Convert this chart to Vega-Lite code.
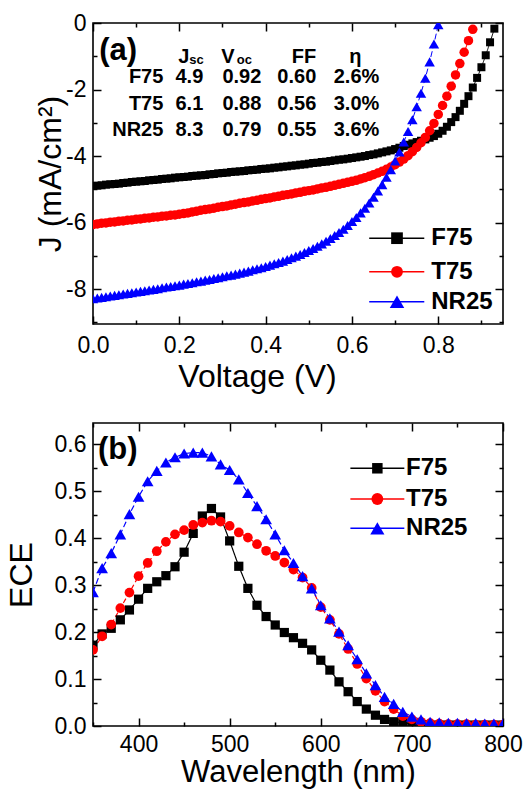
{
"$schema": "https://vega.github.io/schema/vega-lite/v6.json",
"background": "white",
"padding": {"left": 4, "top": 11, "right": 0, "bottom": 0},
"bounds": "flush",
"spacing": 99,
"config": {
 "view": {"stroke": "#000", "strokeWidth": 1.6},
 "axis": {"domain": false, "grid": false, "labelFont": "Liberation Sans", "labelFontSize": 23, "labelColor": "#000", "labelFlush": false, "labelOverlap": false, "titleFont": "Liberation Sans", "titleFontSize": 32, "titleFontWeight": "normal", "titleColor": "#000", "tickColor": "#000", "tickWidth": 1.5, "tickSize": -8, "labelPadding": 18},
 "text": {"font": "Liberation Sans", "color": "#000", "fontWeight": "bold", "fontSize": 20, "baseline": "alphabetic", "align": "right"},
 "rule": {"strokeWidth": 1.5},
 "point": {"filled": true, "opacity": 1}
},
"datasets": {
 "tbl": [
  {"sample": "F75", "Jsc": "4.9", "Voc": "0.92", "FF": "0.60", "eta": "2.6%"},
  {"sample": "T75", "Jsc": "6.1", "Voc": "0.88", "FF": "0.56", "eta": "3.0%"},
  {"sample": "NR25", "Jsc": "8.3", "Voc": "0.79", "FF": "0.55", "eta": "3.6%"}
 ],
 "iv": [
  {"s":"F75","V":0.00,"J":-4.90},{"s":"F75","V":0.01,"J":-4.89},{"s":"F75","V":0.02,"J":-4.88},{"s":"F75","V":0.03,"J":-4.86},{"s":"F75","V":0.04,"J":-4.85},{"s":"F75","V":0.05,"J":-4.84},{"s":"F75","V":0.06,"J":-4.83},{"s":"F75","V":0.07,"J":-4.81},{"s":"F75","V":0.08,"J":-4.80},{"s":"F75","V":0.09,"J":-4.78},
  {"s":"F75","V":0.10,"J":-4.77},{"s":"F75","V":0.11,"J":-4.76},{"s":"F75","V":0.12,"J":-4.75},{"s":"F75","V":0.13,"J":-4.73},{"s":"F75","V":0.14,"J":-4.72},{"s":"F75","V":0.15,"J":-4.71},{"s":"F75","V":0.16,"J":-4.69},{"s":"F75","V":0.17,"J":-4.68},{"s":"F75","V":0.18,"J":-4.67},{"s":"F75","V":0.19,"J":-4.65},
  {"s":"F75","V":0.20,"J":-4.64},{"s":"F75","V":0.21,"J":-4.63},{"s":"F75","V":0.22,"J":-4.62},{"s":"F75","V":0.23,"J":-4.60},{"s":"F75","V":0.24,"J":-4.59},{"s":"F75","V":0.25,"J":-4.58},{"s":"F75","V":0.26,"J":-4.57},{"s":"F75","V":0.27,"J":-4.55},{"s":"F75","V":0.28,"J":-4.54},{"s":"F75","V":0.29,"J":-4.52},
  {"s":"F75","V":0.30,"J":-4.51},{"s":"F75","V":0.31,"J":-4.50},{"s":"F75","V":0.32,"J":-4.48},{"s":"F75","V":0.33,"J":-4.47},{"s":"F75","V":0.34,"J":-4.46},{"s":"F75","V":0.35,"J":-4.45},{"s":"F75","V":0.36,"J":-4.43},{"s":"F75","V":0.37,"J":-4.42},{"s":"F75","V":0.38,"J":-4.41},{"s":"F75","V":0.39,"J":-4.39},
  {"s":"F75","V":0.40,"J":-4.38},{"s":"F75","V":0.41,"J":-4.37},{"s":"F75","V":0.42,"J":-4.35},{"s":"F75","V":0.43,"J":-4.34},{"s":"F75","V":0.44,"J":-4.32},{"s":"F75","V":0.45,"J":-4.31},{"s":"F75","V":0.46,"J":-4.29},{"s":"F75","V":0.47,"J":-4.28},{"s":"F75","V":0.48,"J":-4.26},{"s":"F75","V":0.49,"J":-4.25},
  {"s":"F75","V":0.50,"J":-4.23},{"s":"F75","V":0.51,"J":-4.21},{"s":"F75","V":0.52,"J":-4.20},{"s":"F75","V":0.53,"J":-4.18},{"s":"F75","V":0.54,"J":-4.17},{"s":"F75","V":0.55,"J":-4.15},{"s":"F75","V":0.56,"J":-4.13},{"s":"F75","V":0.57,"J":-4.11},{"s":"F75","V":0.58,"J":-4.10},{"s":"F75","V":0.59,"J":-4.08},
  {"s":"F75","V":0.60,"J":-4.06},{"s":"F75","V":0.61,"J":-4.04},{"s":"F75","V":0.62,"J":-4.02},{"s":"F75","V":0.63,"J":-4.00},{"s":"F75","V":0.64,"J":-3.97},{"s":"F75","V":0.65,"J":-3.95},{"s":"F75","V":0.66,"J":-3.92},{"s":"F75","V":0.67,"J":-3.89},{"s":"F75","V":0.68,"J":-3.86},{"s":"F75","V":0.69,"J":-3.83},
  {"s":"F75","V":0.70,"J":-3.79},{"s":"F75","V":0.71,"J":-3.75},{"s":"F75","V":0.72,"J":-3.70},{"s":"F75","V":0.73,"J":-3.66},{"s":"F75","V":0.74,"J":-3.62},{"s":"F75","V":0.75,"J":-3.58},{"s":"F75","V":0.76,"J":-3.54},{"s":"F75","V":0.77,"J":-3.50},{"s":"F75","V":0.78,"J":-3.45},{"s":"F75","V":0.79,"J":-3.40},
  {"s":"F75","V":0.80,"J":-3.33},{"s":"F75","V":0.81,"J":-3.24},{"s":"F75","V":0.82,"J":-3.12},{"s":"F75","V":0.83,"J":-2.98},{"s":"F75","V":0.84,"J":-2.83},{"s":"F75","V":0.85,"J":-2.64},{"s":"F75","V":0.86,"J":-2.43},{"s":"F75","V":0.87,"J":-2.20},{"s":"F75","V":0.88,"J":-1.94},{"s":"F75","V":0.89,"J":-1.65},
  {"s":"F75","V":0.90,"J":-1.33},{"s":"F75","V":0.91,"J":-0.97},{"s":"F75","V":0.92,"J":-0.58},{"s":"F75","V":0.93,"J":-0.17},
  {"s":"T75","V":0.00,"J":-6.06},{"s":"T75","V":0.01,"J":-6.04},{"s":"T75","V":0.02,"J":-6.02},{"s":"T75","V":0.03,"J":-6.01},{"s":"T75","V":0.04,"J":-5.99},{"s":"T75","V":0.05,"J":-5.98},{"s":"T75","V":0.06,"J":-5.96},{"s":"T75","V":0.07,"J":-5.95},{"s":"T75","V":0.08,"J":-5.93},{"s":"T75","V":0.09,"J":-5.92},
  {"s":"T75","V":0.10,"J":-5.90},{"s":"T75","V":0.11,"J":-5.89},{"s":"T75","V":0.12,"J":-5.87},{"s":"T75","V":0.13,"J":-5.86},{"s":"T75","V":0.14,"J":-5.84},{"s":"T75","V":0.15,"J":-5.83},{"s":"T75","V":0.16,"J":-5.81},{"s":"T75","V":0.17,"J":-5.80},{"s":"T75","V":0.18,"J":-5.78},{"s":"T75","V":0.19,"J":-5.77},
  {"s":"T75","V":0.20,"J":-5.75},{"s":"T75","V":0.21,"J":-5.73},{"s":"T75","V":0.22,"J":-5.71},{"s":"T75","V":0.23,"J":-5.68},{"s":"T75","V":0.24,"J":-5.66},{"s":"T75","V":0.25,"J":-5.63},{"s":"T75","V":0.26,"J":-5.61},{"s":"T75","V":0.27,"J":-5.59},{"s":"T75","V":0.28,"J":-5.57},{"s":"T75","V":0.29,"J":-5.54},
  {"s":"T75","V":0.30,"J":-5.52},{"s":"T75","V":0.31,"J":-5.50},{"s":"T75","V":0.32,"J":-5.47},{"s":"T75","V":0.33,"J":-5.45},{"s":"T75","V":0.34,"J":-5.42},{"s":"T75","V":0.35,"J":-5.40},{"s":"T75","V":0.36,"J":-5.38},{"s":"T75","V":0.37,"J":-5.35},{"s":"T75","V":0.38,"J":-5.33},{"s":"T75","V":0.39,"J":-5.30},
  {"s":"T75","V":0.40,"J":-5.28},{"s":"T75","V":0.41,"J":-5.26},{"s":"T75","V":0.42,"J":-5.23},{"s":"T75","V":0.43,"J":-5.21},{"s":"T75","V":0.44,"J":-5.18},{"s":"T75","V":0.45,"J":-5.16},{"s":"T75","V":0.46,"J":-5.14},{"s":"T75","V":0.47,"J":-5.11},{"s":"T75","V":0.48,"J":-5.09},{"s":"T75","V":0.49,"J":-5.06},
  {"s":"T75","V":0.50,"J":-5.04},{"s":"T75","V":0.51,"J":-5.02},{"s":"T75","V":0.52,"J":-4.99},{"s":"T75","V":0.53,"J":-4.96},{"s":"T75","V":0.54,"J":-4.94},{"s":"T75","V":0.55,"J":-4.91},{"s":"T75","V":0.56,"J":-4.88},{"s":"T75","V":0.57,"J":-4.85},{"s":"T75","V":0.58,"J":-4.82},{"s":"T75","V":0.59,"J":-4.79},
  {"s":"T75","V":0.60,"J":-4.76},{"s":"T75","V":0.61,"J":-4.73},{"s":"T75","V":0.62,"J":-4.69},{"s":"T75","V":0.63,"J":-4.65},{"s":"T75","V":0.64,"J":-4.61},{"s":"T75","V":0.65,"J":-4.56},{"s":"T75","V":0.66,"J":-4.51},{"s":"T75","V":0.67,"J":-4.46},{"s":"T75","V":0.68,"J":-4.40},{"s":"T75","V":0.69,"J":-4.33},
  {"s":"T75","V":0.70,"J":-4.26},{"s":"T75","V":0.71,"J":-4.18},{"s":"T75","V":0.72,"J":-4.09},{"s":"T75","V":0.73,"J":-3.99},{"s":"T75","V":0.74,"J":-3.87},{"s":"T75","V":0.75,"J":-3.74},{"s":"T75","V":0.76,"J":-3.60},{"s":"T75","V":0.77,"J":-3.44},{"s":"T75","V":0.78,"J":-3.24},{"s":"T75","V":0.79,"J":-3.02},
  {"s":"T75","V":0.80,"J":-2.75},{"s":"T75","V":0.81,"J":-2.48},{"s":"T75","V":0.82,"J":-2.20},{"s":"T75","V":0.83,"J":-1.90},{"s":"T75","V":0.84,"J":-1.56},{"s":"T75","V":0.85,"J":-1.22},{"s":"T75","V":0.86,"J":-0.88},{"s":"T75","V":0.87,"J":-0.53},{"s":"T75","V":0.88,"J":-0.19},
  {"s":"NR25","V":0.00,"J":-8.29},{"s":"NR25","V":0.01,"J":-8.27},{"s":"NR25","V":0.02,"J":-8.25},{"s":"NR25","V":0.03,"J":-8.23},{"s":"NR25","V":0.04,"J":-8.21},{"s":"NR25","V":0.05,"J":-8.19},{"s":"NR25","V":0.06,"J":-8.17},{"s":"NR25","V":0.07,"J":-8.15},{"s":"NR25","V":0.08,"J":-8.13},{"s":"NR25","V":0.09,"J":-8.11},
  {"s":"NR25","V":0.10,"J":-8.09},{"s":"NR25","V":0.11,"J":-8.07},{"s":"NR25","V":0.12,"J":-8.05},{"s":"NR25","V":0.13,"J":-8.03},{"s":"NR25","V":0.14,"J":-8.01},{"s":"NR25","V":0.15,"J":-7.99},{"s":"NR25","V":0.16,"J":-7.96},{"s":"NR25","V":0.17,"J":-7.94},{"s":"NR25","V":0.18,"J":-7.92},{"s":"NR25","V":0.19,"J":-7.90},
  {"s":"NR25","V":0.20,"J":-7.88},{"s":"NR25","V":0.21,"J":-7.85},{"s":"NR25","V":0.22,"J":-7.83},{"s":"NR25","V":0.23,"J":-7.81},{"s":"NR25","V":0.24,"J":-7.78},{"s":"NR25","V":0.25,"J":-7.76},{"s":"NR25","V":0.26,"J":-7.73},{"s":"NR25","V":0.27,"J":-7.71},{"s":"NR25","V":0.28,"J":-7.68},{"s":"NR25","V":0.29,"J":-7.66},
  {"s":"NR25","V":0.30,"J":-7.63},{"s":"NR25","V":0.31,"J":-7.60},{"s":"NR25","V":0.32,"J":-7.58},{"s":"NR25","V":0.33,"J":-7.55},{"s":"NR25","V":0.34,"J":-7.52},{"s":"NR25","V":0.35,"J":-7.49},{"s":"NR25","V":0.36,"J":-7.46},{"s":"NR25","V":0.37,"J":-7.42},{"s":"NR25","V":0.38,"J":-7.39},{"s":"NR25","V":0.39,"J":-7.36},
  {"s":"NR25","V":0.40,"J":-7.32},{"s":"NR25","V":0.41,"J":-7.28},{"s":"NR25","V":0.42,"J":-7.24},{"s":"NR25","V":0.43,"J":-7.20},{"s":"NR25","V":0.44,"J":-7.16},{"s":"NR25","V":0.45,"J":-7.11},{"s":"NR25","V":0.46,"J":-7.06},{"s":"NR25","V":0.47,"J":-7.01},{"s":"NR25","V":0.48,"J":-6.96},{"s":"NR25","V":0.49,"J":-6.90},
  {"s":"NR25","V":0.50,"J":-6.84},{"s":"NR25","V":0.51,"J":-6.78},{"s":"NR25","V":0.52,"J":-6.71},{"s":"NR25","V":0.53,"J":-6.64},{"s":"NR25","V":0.54,"J":-6.56},{"s":"NR25","V":0.55,"J":-6.48},{"s":"NR25","V":0.56,"J":-6.39},{"s":"NR25","V":0.57,"J":-6.30},{"s":"NR25","V":0.58,"J":-6.20},{"s":"NR25","V":0.59,"J":-6.09},
  {"s":"NR25","V":0.60,"J":-5.97},{"s":"NR25","V":0.61,"J":-5.85},{"s":"NR25","V":0.62,"J":-5.71},{"s":"NR25","V":0.63,"J":-5.57},{"s":"NR25","V":0.64,"J":-5.41},{"s":"NR25","V":0.65,"J":-5.24},{"s":"NR25","V":0.66,"J":-5.05},{"s":"NR25","V":0.67,"J":-4.86},{"s":"NR25","V":0.68,"J":-4.64},{"s":"NR25","V":0.69,"J":-4.41},
  {"s":"NR25","V":0.70,"J":-4.15},{"s":"NR25","V":0.71,"J":-3.88},{"s":"NR25","V":0.72,"J":-3.58},{"s":"NR25","V":0.73,"J":-3.26},{"s":"NR25","V":0.74,"J":-2.91},{"s":"NR25","V":0.75,"J":-2.52},{"s":"NR25","V":0.76,"J":-2.11},{"s":"NR25","V":0.77,"J":-1.66},{"s":"NR25","V":0.78,"J":-1.17},{"s":"NR25","V":0.79,"J":-0.63},
  {"s":"NR25","V":0.80,"J":-0.05}
 ],
 "ece": [
  {"s":"F75","w":350,"e":0.172},{"s":"F75","w":360,"e":0.196},{"s":"F75","w":370,"e":0.208},{"s":"F75","w":380,"e":0.226},{"s":"F75","w":390,"e":0.247},{"s":"F75","w":400,"e":0.270},{"s":"F75","w":410,"e":0.293},{"s":"F75","w":420,"e":0.307},{"s":"F75","w":430,"e":0.320},{"s":"F75","w":440,"e":0.339},
  {"s":"F75","w":450,"e":0.370},{"s":"F75","w":460,"e":0.410},{"s":"F75","w":470,"e":0.447},{"s":"F75","w":480,"e":0.463},{"s":"F75","w":490,"e":0.445},{"s":"F75","w":500,"e":0.394},{"s":"F75","w":510,"e":0.340},{"s":"F75","w":520,"e":0.293},{"s":"F75","w":530,"e":0.257},{"s":"F75","w":540,"e":0.233},
  {"s":"F75","w":550,"e":0.215},{"s":"F75","w":560,"e":0.199},{"s":"F75","w":570,"e":0.188},{"s":"F75","w":580,"e":0.176},{"s":"F75","w":590,"e":0.162},{"s":"F75","w":600,"e":0.140},{"s":"F75","w":610,"e":0.119},{"s":"F75","w":620,"e":0.094},{"s":"F75","w":630,"e":0.073},{"s":"F75","w":640,"e":0.052},
  {"s":"F75","w":650,"e":0.036},{"s":"F75","w":660,"e":0.023},{"s":"F75","w":670,"e":0.014},{"s":"F75","w":680,"e":0.009},{"s":"F75","w":690,"e":0.007},{"s":"F75","w":700,"e":0.004},{"s":"F75","w":710,"e":0.003},{"s":"F75","w":720,"e":0.002},{"s":"F75","w":730,"e":0.002},{"s":"F75","w":740,"e":0.002},
  {"s":"F75","w":750,"e":0.002},{"s":"F75","w":760,"e":0.002},{"s":"F75","w":770,"e":0.002},{"s":"F75","w":780,"e":0.002},{"s":"F75","w":790,"e":0.002},{"s":"F75","w":800,"e":0.002},
  {"s":"T75","w":350,"e":0.162},{"s":"T75","w":360,"e":0.191},{"s":"T75","w":370,"e":0.216},{"s":"T75","w":380,"e":0.251},{"s":"T75","w":390,"e":0.284},{"s":"T75","w":400,"e":0.319},{"s":"T75","w":410,"e":0.347},{"s":"T75","w":420,"e":0.372},{"s":"T75","w":430,"e":0.392},{"s":"T75","w":440,"e":0.408},
  {"s":"T75","w":450,"e":0.417},{"s":"T75","w":460,"e":0.428},{"s":"T75","w":470,"e":0.433},{"s":"T75","w":480,"e":0.437},{"s":"T75","w":490,"e":0.435},{"s":"T75","w":500,"e":0.426},{"s":"T75","w":510,"e":0.412},{"s":"T75","w":520,"e":0.401},{"s":"T75","w":530,"e":0.387},{"s":"T75","w":540,"e":0.373},
  {"s":"T75","w":550,"e":0.362},{"s":"T75","w":560,"e":0.348},{"s":"T75","w":570,"e":0.333},{"s":"T75","w":580,"e":0.316},{"s":"T75","w":590,"e":0.294},{"s":"T75","w":600,"e":0.253},{"s":"T75","w":610,"e":0.226},{"s":"T75","w":620,"e":0.196},{"s":"T75","w":630,"e":0.164},{"s":"T75","w":640,"e":0.132},
  {"s":"T75","w":650,"e":0.101},{"s":"T75","w":660,"e":0.075},{"s":"T75","w":670,"e":0.052},{"s":"T75","w":680,"e":0.036},{"s":"T75","w":690,"e":0.021},{"s":"T75","w":700,"e":0.014},{"s":"T75","w":710,"e":0.009},{"s":"T75","w":720,"e":0.006},{"s":"T75","w":730,"e":0.005},{"s":"T75","w":740,"e":0.004},
  {"s":"T75","w":750,"e":0.004},{"s":"T75","w":760,"e":0.004},{"s":"T75","w":770,"e":0.003},{"s":"T75","w":780,"e":0.003},{"s":"T75","w":790,"e":0.003},{"s":"T75","w":800,"e":0.003},
  {"s":"NR25","w":350,"e":0.285},{"s":"NR25","w":360,"e":0.336},{"s":"NR25","w":370,"e":0.368},{"s":"NR25","w":380,"e":0.408},{"s":"NR25","w":390,"e":0.451},{"s":"NR25","w":400,"e":0.488},{"s":"NR25","w":410,"e":0.521},{"s":"NR25","w":420,"e":0.543},{"s":"NR25","w":430,"e":0.561},{"s":"NR25","w":440,"e":0.572},
  {"s":"NR25","w":450,"e":0.580},{"s":"NR25","w":460,"e":0.582},{"s":"NR25","w":470,"e":0.582},{"s":"NR25","w":480,"e":0.574},{"s":"NR25","w":490,"e":0.557},{"s":"NR25","w":500,"e":0.545},{"s":"NR25","w":510,"e":0.525},{"s":"NR25","w":520,"e":0.496},{"s":"NR25","w":530,"e":0.468},{"s":"NR25","w":540,"e":0.440},
  {"s":"NR25","w":550,"e":0.408},{"s":"NR25","w":560,"e":0.374},{"s":"NR25","w":570,"e":0.347},{"s":"NR25","w":580,"e":0.319},{"s":"NR25","w":590,"e":0.293},{"s":"NR25","w":600,"e":0.257},{"s":"NR25","w":610,"e":0.229},{"s":"NR25","w":620,"e":0.201},{"s":"NR25","w":630,"e":0.172},{"s":"NR25","w":640,"e":0.142},
  {"s":"NR25","w":650,"e":0.112},{"s":"NR25","w":660,"e":0.087},{"s":"NR25","w":670,"e":0.062},{"s":"NR25","w":680,"e":0.047},{"s":"NR25","w":690,"e":0.030},{"s":"NR25","w":700,"e":0.020},{"s":"NR25","w":710,"e":0.014},{"s":"NR25","w":720,"e":0.009},{"s":"NR25","w":730,"e":0.008},{"s":"NR25","w":740,"e":0.007},
  {"s":"NR25","w":750,"e":0.007},{"s":"NR25","w":760,"e":0.006},{"s":"NR25","w":770,"e":0.006},{"s":"NR25","w":780,"e":0.005},{"s":"NR25","w":790,"e":0.005},{"s":"NR25","w":800,"e":0.005}
 ]
},
"vconcat": [
 {
  "width": 410, "height": 301,
  "data": {"name": "iv"},
  "resolve": {"axis": {"x": "independent", "y": "independent"}},
  "layer": [
   {"mark": {"type": "line", "strokeWidth": 1, "clip": true},
    "encoding": {
     "x": {"field": "V", "type": "quantitative", "scale": {"domain": [0, 0.95], "nice": false, "zero": false},
           "axis": {"orient": "bottom", "values": [0, 0.2, 0.4, 0.6, 0.8], "format": ".1f", "title": "Voltage (V)", "titleX": 164, "titlePadding": 4, "labelPadding": 18}},
     "y": {"field": "J", "type": "quantitative", "scale": {"domain": [-9.05, 0], "nice": false, "zero": false},
           "axis": {"orient": "left", "values": [0, -2, -4, -6, -8], "labelExpr": "replace(datum.label, '\u2212', '-')", "title": "J (mA/cm\u00b2)", "titlePadding": -1.7, "labelPadding": 15}},
     "color": {"field": "s", "type": "nominal", "scale": {"domain": ["F75", "T75", "NR25"], "range": ["#000000", "#ff0000", "#0000ff"]}, "legend": null},
     "strokeDash": {"field": "s", "type": "nominal", "scale": {"domain": ["F75", "T75", "NR25"], "range": [[1, 0], [5, 3], [6, 3]]}, "legend": null}
    }},
   {"transform": [{"filter": "datum.s == 'F75'"}],
    "mark": {"type": "point", "shape": "square", "color": "#000000", "size": 64, "clip": true},
    "encoding": {
     "x": {"field": "V", "type": "quantitative", "axis": {"orient": "top", "values": [0, 0.2, 0.4, 0.6, 0.8], "labels": false, "title": null}},
     "y": {"field": "J", "type": "quantitative", "axis": {"orient": "right", "values": [0, -2, -4, -6, -8], "labels": false, "title": null}}
    }},
   {"transform": [{"filter": "datum.s == 'T75'"}],
    "mark": {"type": "point", "shape": "circle", "color": "#ff0000", "size": 90, "clip": true},
    "encoding": {
     "x": {"field": "V", "type": "quantitative", "axis": {"orient": "bottom", "values": [0.1, 0.3, 0.5, 0.7, 0.9], "labels": false, "tickSize": -4, "title": null}},
     "y": {"field": "J", "type": "quantitative", "axis": {"orient": "left", "values": [-1, -3, -5, -7, -9], "labels": false, "tickSize": -4, "title": null}}
    }},
   {"transform": [{"filter": "datum.s == 'NR25'"}],
    "mark": {"type": "point", "shape": "triangle-up", "color": "#0000ff", "size": 110, "clip": true},
    "encoding": {
     "x": {"field": "V", "type": "quantitative", "axis": {"orient": "top", "values": [0.1, 0.3, 0.5, 0.7, 0.9], "labels": false, "tickSize": -4, "title": null}},
     "y": {"field": "J", "type": "quantitative", "axis": {"orient": "right", "values": [-1, -3, -5, -7, -9], "labels": false, "tickSize": -4, "title": null}}
    }},
   {"data": {"values": [{}]}, "mark": {"type": "rule", "color": "#000000"}, "encoding": {"x": {"datum": 0.640, "axis": null}, "x2": {"datum": 0.7676}, "y": {"datum": -6.47, "axis": null}}},
   {"data": {"values": [{}]}, "mark": {"type": "rule", "color": "#ff0000"}, "encoding": {"x": {"datum": 0.640, "axis": null}, "x2": {"datum": 0.7676}, "y": {"datum": -7.48, "axis": null}}},
   {"data": {"values": [{}]}, "mark": {"type": "rule", "color": "#0000ff"}, "encoding": {"x": {"datum": 0.640, "axis": null}, "x2": {"datum": 0.7676}, "y": {"datum": -8.38, "axis": null}}},
   {"data": {"values": [{}]}, "mark": {"type": "point", "shape": "square", "color": "#000000", "size": 137}, "encoding": {"x": {"datum": 0.7044, "axis": null}, "y": {"datum": -6.47, "axis": null}}},
   {"data": {"values": [{}]}, "mark": {"type": "point", "shape": "circle", "color": "#ff0000", "size": 139}, "encoding": {"x": {"datum": 0.7044, "axis": null}, "y": {"datum": -7.48, "axis": null}}},
   {"data": {"values": [{}]}, "mark": {"type": "point", "shape": "triangle-up", "color": "#0000ff", "size": 210}, "encoding": {"x": {"datum": 0.7044, "axis": null}, "y": {"datum": -8.38, "axis": null}}},
   {"data": {"values": [{}]}, "mark": {"type": "text", "fontSize": 24, "align": "left", "baseline": "middle"}, "encoding": {"x": {"datum": 0.7838, "axis": null}, "y": {"datum": -6.47, "axis": null}, "text": {"value": "F75"}}},
   {"data": {"values": [{}]}, "mark": {"type": "text", "fontSize": 24, "align": "left", "baseline": "middle"}, "encoding": {"x": {"datum": 0.7838, "axis": null}, "y": {"datum": -7.48, "axis": null}, "text": {"value": "T75"}}},
   {"data": {"values": [{}]}, "mark": {"type": "text", "fontSize": 24, "align": "left", "baseline": "middle"}, "encoding": {"x": {"datum": 0.7838, "axis": null}, "y": {"datum": -8.38, "axis": null}, "text": {"value": "NR25"}}},
   {"data": {"name": "tbl"}, "transform": [{"filter": "datum.sample == 'F75'"}], "mark": "text", "encoding": {"x": {"datum": 0.163, "axis": null}, "y": {"datum": -1.819, "axis": null}, "text": {"field": "sample"}}},
   {"data": {"name": "tbl"}, "transform": [{"filter": "datum.sample == 'F75'"}], "mark": "text", "encoding": {"x": {"datum": 0.2556, "axis": null}, "y": {"datum": -1.819, "axis": null}, "text": {"field": "Jsc"}}},
   {"data": {"name": "tbl"}, "transform": [{"filter": "datum.sample == 'F75'"}], "mark": "text", "encoding": {"x": {"datum": 0.390, "axis": null}, "y": {"datum": -1.819, "axis": null}, "text": {"field": "Voc"}}},
   {"data": {"name": "tbl"}, "transform": [{"filter": "datum.sample == 'F75'"}], "mark": "text", "encoding": {"x": {"datum": 0.5174, "axis": null}, "y": {"datum": -1.819, "axis": null}, "text": {"field": "FF"}}},
   {"data": {"name": "tbl"}, "transform": [{"filter": "datum.sample == 'F75'"}], "mark": "text", "encoding": {"x": {"datum": 0.6634, "axis": null}, "y": {"datum": -1.819, "axis": null}, "text": {"field": "eta"}}},
   {"data": {"name": "tbl"}, "transform": [{"filter": "datum.sample == 'T75'"}], "mark": "text", "encoding": {"x": {"datum": 0.163, "axis": null}, "y": {"datum": -2.616, "axis": null}, "text": {"field": "sample"}}},
   {"data": {"name": "tbl"}, "transform": [{"filter": "datum.sample == 'T75'"}], "mark": "text", "encoding": {"x": {"datum": 0.2556, "axis": null}, "y": {"datum": -2.616, "axis": null}, "text": {"field": "Jsc"}}},
   {"data": {"name": "tbl"}, "transform": [{"filter": "datum.sample == 'T75'"}], "mark": "text", "encoding": {"x": {"datum": 0.390, "axis": null}, "y": {"datum": -2.616, "axis": null}, "text": {"field": "Voc"}}},
   {"data": {"name": "tbl"}, "transform": [{"filter": "datum.sample == 'T75'"}], "mark": "text", "encoding": {"x": {"datum": 0.5174, "axis": null}, "y": {"datum": -2.616, "axis": null}, "text": {"field": "FF"}}},
   {"data": {"name": "tbl"}, "transform": [{"filter": "datum.sample == 'T75'"}], "mark": "text", "encoding": {"x": {"datum": 0.6634, "axis": null}, "y": {"datum": -2.616, "axis": null}, "text": {"field": "eta"}}},
   {"data": {"name": "tbl"}, "transform": [{"filter": "datum.sample == 'NR25'"}], "mark": "text", "encoding": {"x": {"datum": 0.163, "axis": null}, "y": {"datum": -3.412, "axis": null}, "text": {"field": "sample"}}},
   {"data": {"name": "tbl"}, "transform": [{"filter": "datum.sample == 'NR25'"}], "mark": "text", "encoding": {"x": {"datum": 0.2556, "axis": null}, "y": {"datum": -3.412, "axis": null}, "text": {"field": "Jsc"}}},
   {"data": {"name": "tbl"}, "transform": [{"filter": "datum.sample == 'NR25'"}], "mark": "text", "encoding": {"x": {"datum": 0.390, "axis": null}, "y": {"datum": -3.412, "axis": null}, "text": {"field": "Voc"}}},
   {"data": {"name": "tbl"}, "transform": [{"filter": "datum.sample == 'NR25'"}], "mark": "text", "encoding": {"x": {"datum": 0.5174, "axis": null}, "y": {"datum": -3.412, "axis": null}, "text": {"field": "FF"}}},
   {"data": {"name": "tbl"}, "transform": [{"filter": "datum.sample == 'NR25'"}], "mark": "text", "encoding": {"x": {"datum": 0.6634, "axis": null}, "y": {"datum": -3.412, "axis": null}, "text": {"field": "eta"}}},
   {"data": {"values": [{}]}, "mark": {"type": "text", "align": "left"},
    "encoding": {"x": {"datum": 0.1976, "axis": null}, "y": {"datum": -1.194, "axis": null}, "text": {"value": "J"}}},
   {"data": {"values": [{}]}, "mark": {"type": "text", "fontSize": 13, "align": "left"},
    "encoding": {"x": {"datum": 0.2231, "axis": null}, "y": {"datum": -1.23, "axis": null}, "text": {"value": "sc"}}},
   {"data": {"values": [{}]}, "mark": {"type": "text", "align": "left"},
    "encoding": {"x": {"datum": 0.2973, "axis": null}, "y": {"datum": -1.194, "axis": null}, "text": {"value": "V"}}},
   {"data": {"values": [{}]}, "mark": {"type": "text", "fontSize": 13, "align": "left"},
    "encoding": {"x": {"datum": 0.333, "axis": null}, "y": {"datum": -1.23, "axis": null}, "text": {"value": "oc"}}},
   {"data": {"values": [{}]}, "mark": {"type": "text", "align": "right"},
    "encoding": {"x": {"datum": 0.5174, "axis": null}, "y": {"datum": -1.194, "axis": null}, "text": {"value": "FF"}}},
   {"data": {"values": [{}]}, "mark": {"type": "text", "align": "left"},
    "encoding": {"x": {"datum": 0.5938, "axis": null}, "y": {"datum": -1.194, "axis": null}, "text": {"value": "\u03b7"}}},
   {"data": {"values": [{}]}, "mark": {"type": "text", "fontSize": 31, "align": "left"},
    "encoding": {"x": {"datum": 0.0146, "axis": null}, "y": {"datum": -1.11, "axis": null}, "text": {"value": "(a)"}}}
  ]
 },
 {
  "width": 410, "height": 303,
  "data": {"name": "ece"},
  "resolve": {"axis": {"x": "independent", "y": "independent"}},
  "layer": [
   {"mark": {"type": "line", "strokeWidth": 1.2, "clip": true},
    "encoding": {
     "x": {"field": "w", "type": "quantitative", "scale": {"domain": [350, 800], "nice": false, "zero": false},
           "axis": {"orient": "bottom", "values": [400, 500, 600, 700, 800], "format": "d", "title": "Wavelength (nm)", "titleFontSize": 31, "titlePadding": 1.5, "labelPadding": 15.3}},
     "y": {"field": "e", "type": "quantitative", "scale": {"domain": [0, 0.645], "nice": false, "zero": false},
           "axis": {"orient": "left", "values": [0, 0.1, 0.2, 0.3, 0.4, 0.5, 0.6], "format": ".1f", "title": "ECE", "titlePadding": 15.7, "labelPadding": 15}},
     "color": {"field": "s", "type": "nominal", "scale": {"domain": ["F75", "T75", "NR25"], "range": ["#000000", "#ff0000", "#0000ff"]}, "legend": null},
     "strokeDash": {"field": "s", "type": "nominal", "scale": {"domain": ["F75", "T75", "NR25"], "range": [[1, 0], [5, 3], [6, 3]]}, "legend": null}
    }},
   {"transform": [{"filter": "datum.s == 'F75'"}],
    "mark": {"type": "point", "shape": "square", "color": "#000000", "size": 85, "clip": true},
    "encoding": {
     "x": {"field": "w", "type": "quantitative", "axis": {"orient": "top", "values": [400, 500, 600, 700, 800], "labels": false, "title": null}},
     "y": {"field": "e", "type": "quantitative", "axis": {"orient": "right", "values": [0, 0.1, 0.2, 0.3, 0.4, 0.5, 0.6], "labels": false, "title": null}}
    }},
   {"transform": [{"filter": "datum.s == 'T75'"}],
    "mark": {"type": "point", "shape": "circle", "color": "#ff0000", "size": 95, "clip": true},
    "encoding": {
     "x": {"field": "w", "type": "quantitative", "axis": {"orient": "bottom", "values": [350, 450, 550, 650, 750], "labels": false, "tickSize": -4, "title": null}},
     "y": {"field": "e", "type": "quantitative", "axis": {"orient": "left", "values": [0.05, 0.15, 0.25, 0.35, 0.45, 0.55], "labels": false, "tickSize": -4, "title": null}}
    }},
   {"transform": [{"filter": "datum.s == 'NR25'"}],
    "mark": {"type": "point", "shape": "triangle-up", "color": "#0000ff", "size": 137, "clip": true},
    "encoding": {
     "x": {"field": "w", "type": "quantitative", "axis": {"orient": "top", "values": [350, 450, 550, 650, 750], "labels": false, "tickSize": -4, "title": null}},
     "y": {"field": "e", "type": "quantitative", "axis": {"orient": "right", "values": [0.05, 0.15, 0.25, 0.35, 0.45, 0.55], "labels": false, "tickSize": -4, "title": null}}
    }},
   {"data": {"values": [{}]}, "mark": {"type": "rule", "color": "#000000"}, "encoding": {"x": {"datum": 632.5, "axis": null}, "x2": {"datum": 691.7}, "y": {"datum": 0.5486, "axis": null}}},
   {"data": {"values": [{}]}, "mark": {"type": "rule", "color": "#ff0000"}, "encoding": {"x": {"datum": 632.5, "axis": null}, "x2": {"datum": 691.7}, "y": {"datum": 0.4832, "axis": null}}},
   {"data": {"values": [{}]}, "mark": {"type": "rule", "color": "#0000ff"}, "encoding": {"x": {"datum": 632.5, "axis": null}, "x2": {"datum": 691.7}, "y": {"datum": 0.4208, "axis": null}}},
   {"data": {"values": [{}]}, "mark": {"type": "point", "shape": "square", "color": "#000000", "size": 110}, "encoding": {"x": {"datum": 662.1, "axis": null}, "y": {"datum": 0.5486, "axis": null}}},
   {"data": {"values": [{}]}, "mark": {"type": "point", "shape": "circle", "color": "#ff0000", "size": 139}, "encoding": {"x": {"datum": 662.1, "axis": null}, "y": {"datum": 0.4832, "axis": null}}},
   {"data": {"values": [{}]}, "mark": {"type": "point", "shape": "triangle-up", "color": "#0000ff", "size": 200}, "encoding": {"x": {"datum": 662.1, "axis": null}, "y": {"datum": 0.4208, "axis": null}}},
   {"data": {"values": [{}]}, "mark": {"type": "text", "fontSize": 24, "align": "left", "baseline": "middle"}, "encoding": {"x": {"datum": 693.6, "axis": null}, "y": {"datum": 0.5486, "axis": null}, "text": {"value": "F75"}}},
   {"data": {"values": [{}]}, "mark": {"type": "text", "fontSize": 24, "align": "left", "baseline": "middle"}, "encoding": {"x": {"datum": 693.6, "axis": null}, "y": {"datum": 0.4832, "axis": null}, "text": {"value": "T75"}}},
   {"data": {"values": [{}]}, "mark": {"type": "text", "fontSize": 24, "align": "left", "baseline": "middle"}, "encoding": {"x": {"datum": 693.6, "axis": null}, "y": {"datum": 0.4208, "axis": null}, "text": {"value": "NR25"}}},
   {"data": {"values": [{}]}, "mark": {"type": "text", "fontSize": 31, "align": "left"},
    "encoding": {"x": {"datum": 355.5, "axis": null}, "y": {"datum": 0.568, "axis": null}, "text": {"value": "(b)"}}}
  ]
 }
]
}
